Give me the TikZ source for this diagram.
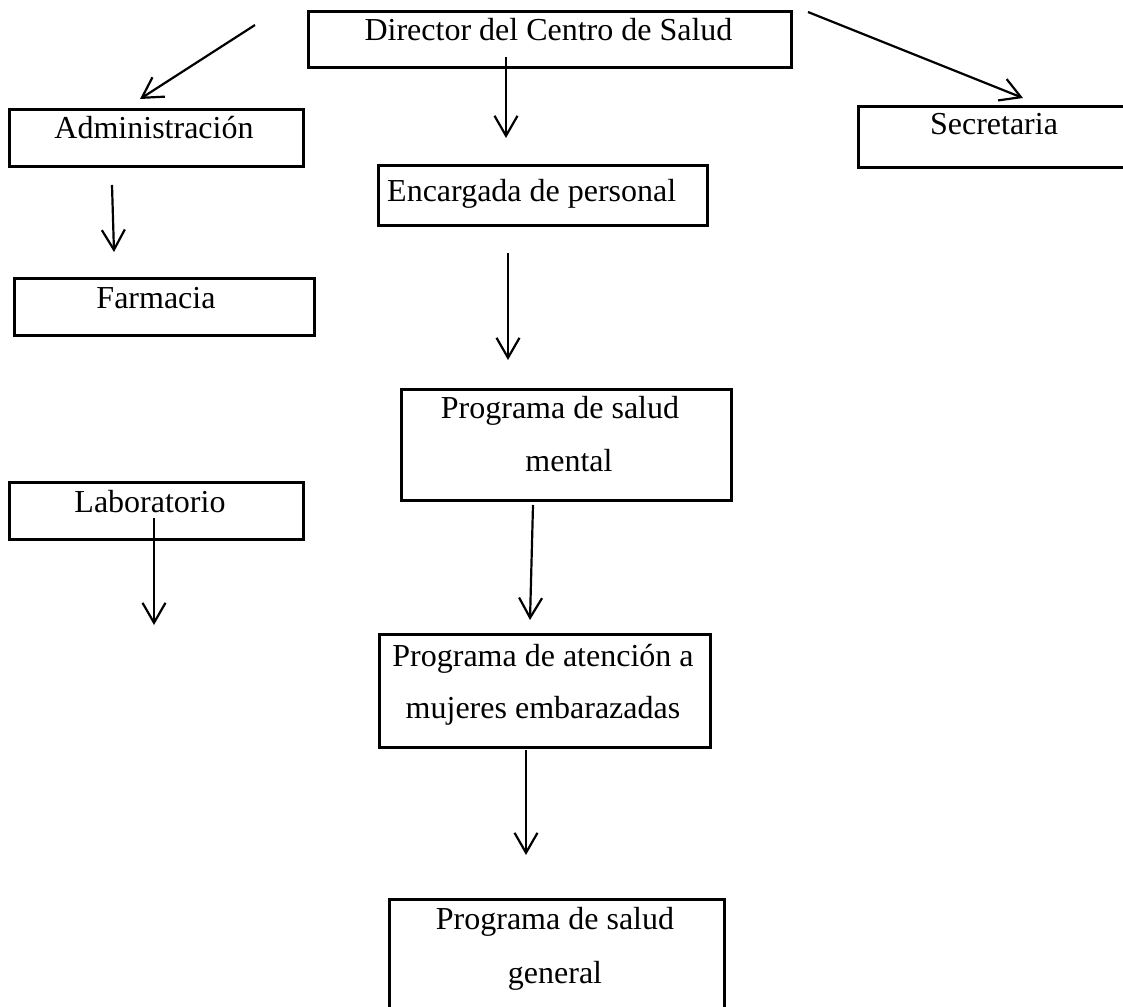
\documentclass[tikz,border=0pt]{standalone}
\usepackage{fontspec}
\setmainfont{Liberation Serif}
\usetikzlibrary{arrows.meta}
\tikzset{
  box/.style={draw=black, line width=2.7pt, rectangle, inner sep=0pt, anchor=north west},
  lbl/.style={inner sep=0pt, anchor=base, font=\fontsize{32pt}{38pt}\selectfont},
  conn/.style={line width=2.2pt, -{Straight Barb[length=20pt,width=23pt]}}
}
\begin{document}
\begin{tikzpicture}[x=1pt,y=-1pt]
\useasboundingbox (0,0) rectangle (1123,1006);
\clip (0,0) rectangle (1123,1006);
\fill[white] (0,0) rectangle (1123,1006);

% boxes
\node[box, minimum width=483pt, minimum height=56pt] (dir) at (307,10) {};
\node[box, minimum width=294pt, minimum height=57pt] (adm) at (8,108) {};
\node[box, minimum width=274pt, minimum height=61pt] (sec) at (857,105) {};
\node[box, minimum width=329pt, minimum height=60pt] (enc) at (377,164) {};
\node[box, minimum width=300pt, minimum height=57pt] (far) at (13,277) {};
\node[box, minimum width=330pt, minimum height=111pt] (men) at (400,388) {};
\node[box, minimum width=294pt, minimum height=57pt] (lab) at (8,481) {};
\node[box, minimum width=331pt, minimum height=113pt] (emb) at (378,633) {};
\node[box, minimum width=335pt, minimum height=130pt] (gen) at (388,898) {};

% texts
\node[lbl] (dirT) at (548.5,41) {Director del Centro de Salud};
\node[lbl] (admT) at (154,139) {Administración};
\node[lbl] (secT) at (994,135) {Secretaria};
\node[lbl, anchor=base west] (encT) at (387,201) {Encargada de personal};
\node[lbl] (farT) at (156,308) {Farmacia};
\node[lbl] (menT1) at (560,418) {Programa de salud};
\node[lbl] (menT2) at (569,471) {mental};
\node[lbl] (labT) at (150,512) {Laboratorio};
\node[lbl] (embT1) at (543,666) {Programa de atención a};
\node[lbl] (embT2) at (543,718) {mujeres embarazadas};
\node[lbl] (genT1) at (555,929) {Programa de salud};
\node[lbl] (genT2) at (555,983) {general};

% connector end points
\coordinate (c1s) at (255,25);   \coordinate (c1e) at (140,99);
\coordinate (c2s) at (808,12);   \coordinate (c2e) at (1023,98);
\coordinate (c3s) at (506,57);   \coordinate (c3e) at (506,138);
\coordinate (c4s) at (112,185);  \coordinate (c4e) at (114,252);
\coordinate (c5s) at (508,253);  \coordinate (c5e) at (508,360);
\coordinate (c6s) at (533,505);  \coordinate (c6e) at (530,620);
\coordinate (c7s) at (154,518);  \coordinate (c7e) at (154,625);
\coordinate (c8s) at (526,750);  \coordinate (c8e) at (526,855);

\draw[conn] (c1s) -- (c1e);
\draw[conn] (c2s) -- (c2e);
\draw[conn] (c3s) -- (c3e);
\draw[conn] (c4s) -- (c4e);
\draw[conn] (c5s) -- (c5e);
\draw[conn] (c6s) -- (c6e);
\draw[conn] (c7s) -- (c7e);
\draw[conn] (c8s) -- (c8e);
\end{tikzpicture}
\end{document}
